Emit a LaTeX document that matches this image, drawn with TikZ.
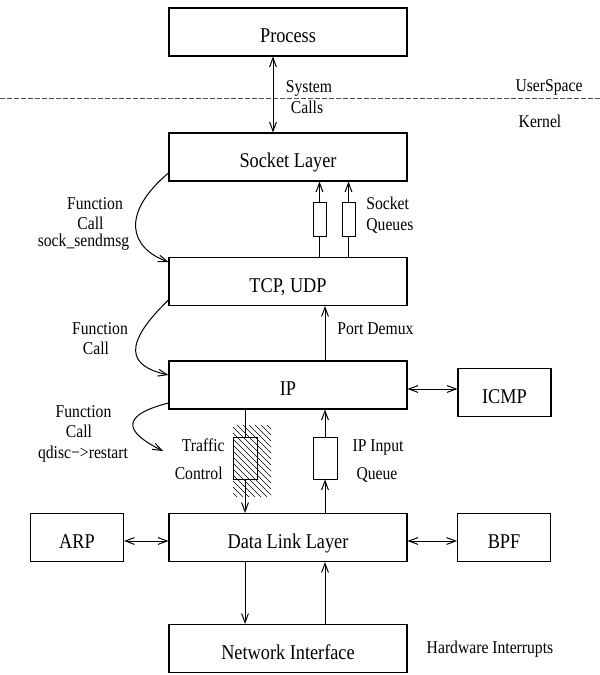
\documentclass[tikz,border=0pt]{standalone}
\usepackage{fontspec}
\setmainfont{Liberation Serif}[FakeStretch=0.87]
\usetikzlibrary{arrows.meta}

\begin{document}
\begin{tikzpicture}[x=0.5pt,y=-0.5pt,
  >={Straight Barb[length=4.5pt,width=3.4pt]},
  conn/.style={line width=0.5pt},
  layer/.style={draw,line width=0.55pt,minimum width=119pt,minimum height=24pt,
    inner sep=0pt,font=\fontsize{10.5}{12}\selectfont,text height=10.5pt,text depth=0pt},
  side/.style={layer,minimum width=46.5pt},
  qbox/.style={draw,line width=0.5pt,minimum width=6.5pt,minimum height=17pt,inner sep=0pt},
  tqbox/.style={qbox,minimum width=12pt,minimum height=21pt},
  lbl/.style={font=\fontsize{9}{10}\selectfont,inner sep=0pt,anchor=base}]
\useasboundingbox (0,0) rectangle (600,675);

% protocol layers
\node[layer] (proc) at (288,32) {Process};
\node[layer] (sock) at (288,157) {Socket Layer};
\node[layer] (tcp) at (288,281.5) {TCP, UDP};
\node[layer] (ip) at (288,385) {IP};
\node[layer] (dll) at (288,537.5) {Data Link Layer};
\node[layer] (ni) at (288,648.5) {Network Interface};
\node[side] (icmp) at (504.5,392.5) {ICMP};
\node[side] (arp) at (77,537.5) {ARP};
\node[side] (bpf) at (504,537.5) {BPF};

% queues
\node[qbox] (q1) at (319.5,219) {};
\node[qbox] (q2) at (348.5,219) {};
\node[tqbox] (tc) at (245,458) {};
\node[tqbox] (iq) at (325,458) {};

% traffic control hatching
\begin{scope}
  \clip (233,425) rectangle (271,497);
  \foreach \k in {159,165,...,273}
    \draw[line width=0.35pt] (\k,425) -- ++(72,72);
\end{scope}

% user / kernel boundary
\coordinate (dl) at (0,98);
\coordinate (dr) at (600,98);
\draw[line width=0.5pt,dash pattern=on 2.25pt off 1.25pt,black!70] (dl) -- (dr);
\node[lbl] (us) at (549,91) {UserSpace};
\node[lbl] (kn) at (540,127) {Kernel};

% system calls
\coordinate (sys) at (273,0);
\draw[conn,<->] (proc.south -| sys) -- (sock.north -| sys);
\node[lbl] (sc1) at (309,92) {System};
\node[lbl] (sc2) at (307,113) {Calls};

% socket queues
\draw[conn] (tcp.north -| q1) -- (q1.south);
\draw[conn,->] (q1.north) -- (sock.south -| q1);
\draw[conn] (tcp.north -| q2) -- (q2.south);
\draw[conn,->] (q2.north) -- (sock.south -| q2);
\node[lbl,anchor=base west] (sq1) at (366,209) {Socket};
\node[lbl,anchor=base west] (sq2) at (366,230) {Queues};

% port demux
\draw[conn,->] (ip.north -| iq) -- (tcp.south -| iq);
\node[lbl,anchor=base west] (pd) at (337,334) {Port Demux};

% function calls on the way down
\draw[conn,->] ([yshift=-8pt]sock.west) .. controls (120,214) and (130,248) .. ([yshift=9.75pt]tcp.west);
\node[lbl] (f1a) at (95,209) {Function};
\node[lbl] (f1b) at (90.5,229) {Call};
\node[lbl] (f1c) at (83.5,246) {sock\_sendmsg};

\draw[conn,->] ([yshift=-9.25pt]tcp.west) .. controls (122,345) and (128,366) .. ([yshift=5pt]ip.west);
\node[lbl] (f2a) at (100,334) {Function};
\node[lbl] (f2b) at (96,354) {Call};

\coordinate (fc3) at (163,451);
\draw[conn,->] ([yshift=-9pt]ip.west) .. controls (110,418) and (135,437) .. (fc3);
\node[lbl] (f3a) at (83.5,417) {Function};
\node[lbl] (f3b) at (79,437) {Call};
\node[lbl] (f3c) at (83,458) {qdisc−>restart};

% ICMP, ARP, BPF
\draw[conn,<->] ([yshift=-2pt]ip.east) -- ([yshift=1.75pt]icmp.west);
\draw[conn,<->] ([yshift=-1.75pt]arp.east) -- ([yshift=-1.75pt]dll.west);
\draw[conn,<->] ([yshift=-1.75pt]dll.east) -- ([yshift=-1.75pt]bpf.west);

% output path through traffic control
\draw[conn] (ip.south -| tc) -- (tc.north);
\draw[conn,->] (tc.south) -- (dll.north -| tc);
\node[lbl,anchor=base east] (tc1) at (225,451) {Traffic};
\node[lbl,anchor=base east] (tc2) at (223,479) {Control};

% input path through IP input queue
\draw[conn,->] (iq.north) -- (ip.south -| iq);
\draw[conn,->] (dll.north -| iq) -- (iq.south);
\node[lbl] (iq1) at (378,451) {IP Input};
\node[lbl] (iq2) at (377,479) {Queue};

% device
\draw[conn,->] (dll.south -| tc) -- (ni.north -| tc);
\draw[conn,->] (ni.north -| iq) -- (dll.south -| iq);
\node[lbl] (hw) at (490,653) {Hardware Interrupts};
\end{tikzpicture}
\end{document}
